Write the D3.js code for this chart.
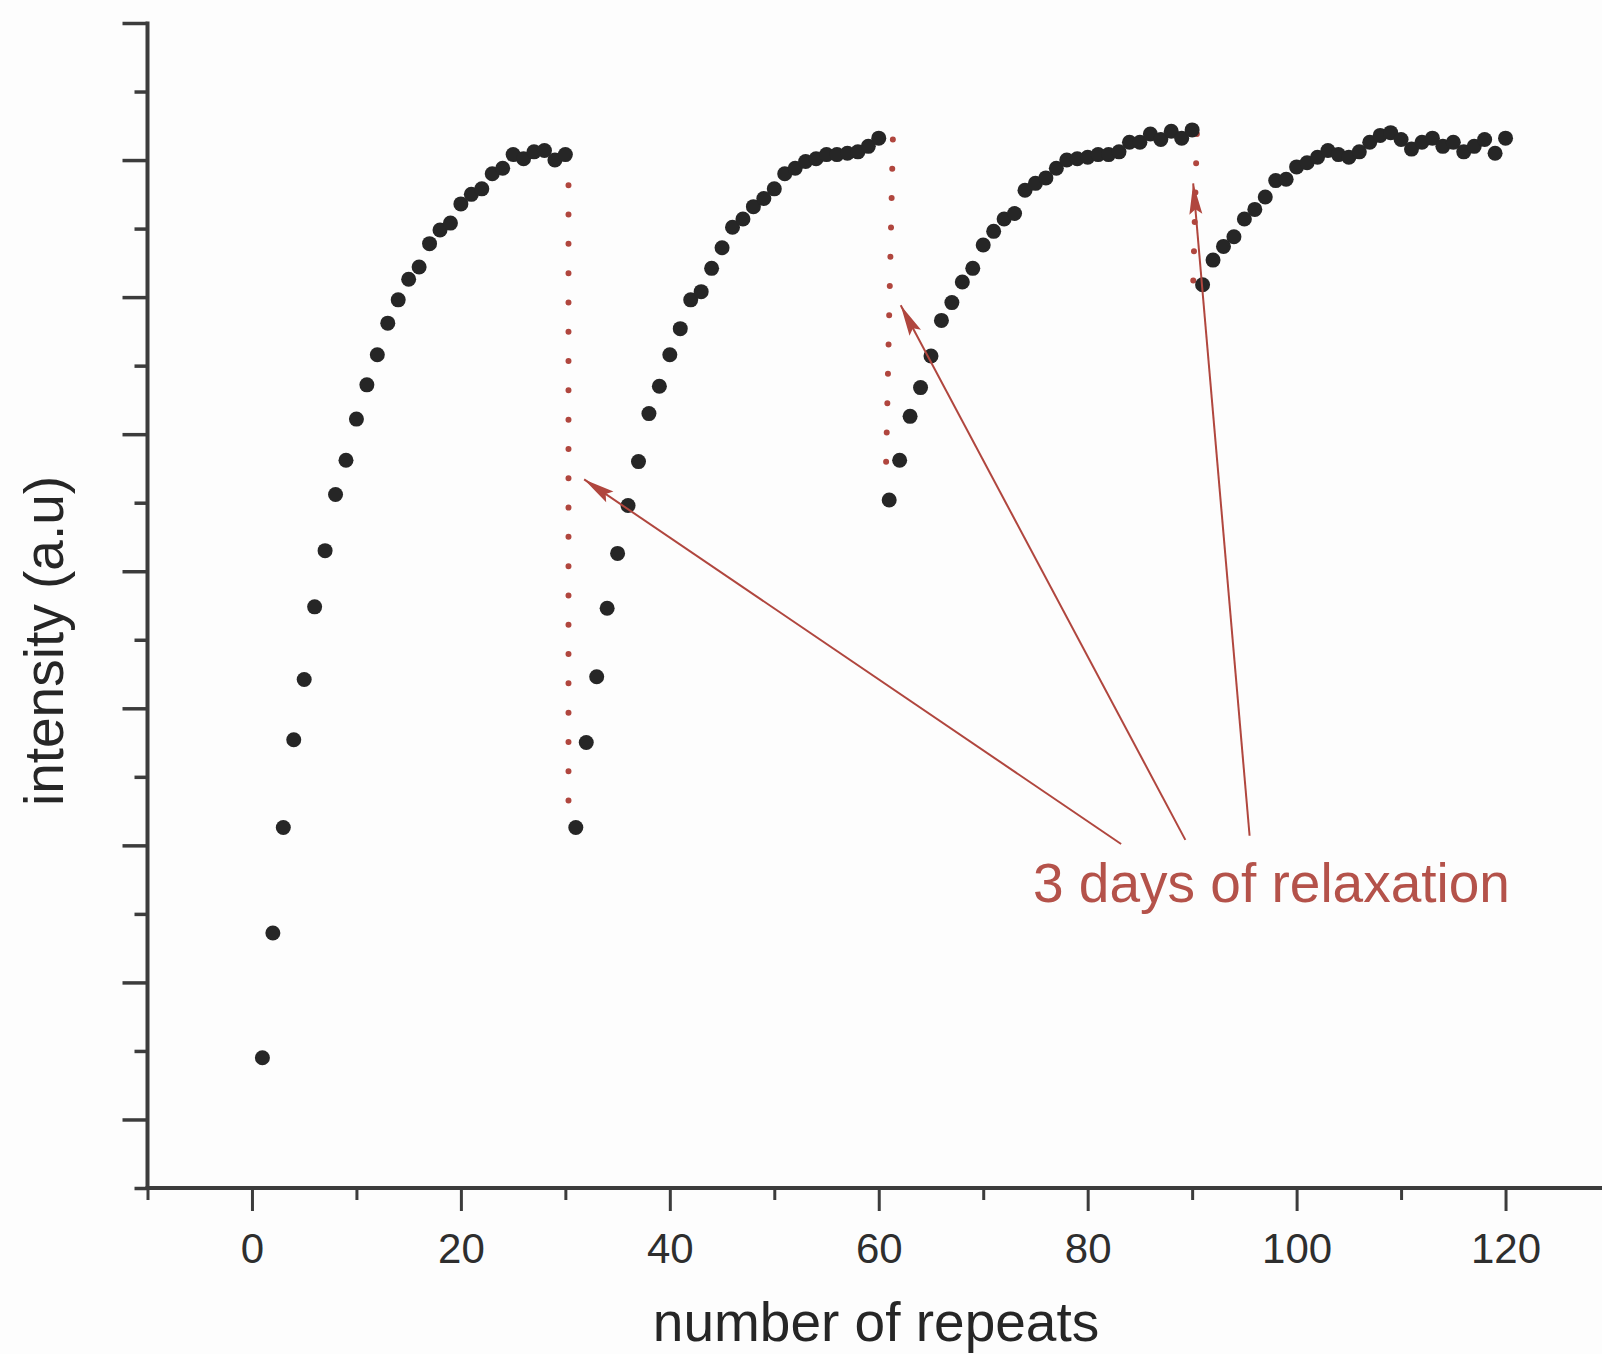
<!DOCTYPE html>
<html>
<head>
<meta charset="utf-8">
<script src="https://cdn.jsdelivr.net/npm/d3@7"></script>
<style>
  html, body { margin: 0; padding: 0; background: #fdfdfd; }
  svg { display: block; }
  text { font-family: "Liberation Sans", Arial, Helvetica, sans-serif; }
</style>
</head>
<body>
<svg id="chart" width="1602" height="1354"></svg>
<script>
// Intensity after each repeat, one array per measurement run (30 repeats each)
const runStarts = [1, 31, 61, 91];
const run1 = [0.45, 1.36, 2.13, 2.77, 3.21, 3.74, 4.15, 4.56, 4.81, 5.11,
              5.36, 5.58, 5.81, 5.98, 6.13, 6.22, 6.39, 6.49, 6.54, 6.68,
              6.75, 6.79, 6.90, 6.94, 7.04, 7.01, 7.06, 7.07, 7.00, 7.04];
const run2 = [2.13, 2.75, 3.23, 3.73, 4.13, 4.48, 4.80, 5.15, 5.35, 5.58,
              5.77, 5.98, 6.04, 6.21, 6.36, 6.51, 6.57, 6.66, 6.72, 6.79,
              6.90, 6.94, 6.99, 7.01, 7.04, 7.04, 7.05, 7.06, 7.10, 7.16];
const run3 = [4.52, 4.81, 5.13, 5.34, 5.57, 5.83, 5.96, 6.11, 6.21, 6.38,
              6.48, 6.57, 6.61, 6.78, 6.83, 6.87, 6.94, 7.00, 7.01, 7.02,
              7.04, 7.04, 7.06, 7.13, 7.13, 7.19, 7.15, 7.21, 7.16, 7.22];
const run4 = [6.09, 6.27, 6.37, 6.44, 6.57, 6.64, 6.73, 6.85, 6.86, 6.95,
              6.98, 7.02, 7.07, 7.04, 7.02, 7.06, 7.13, 7.18, 7.20, 7.15,
              7.08, 7.13, 7.16, 7.10, 7.13, 7.06, 7.10, 7.15, 7.05, 7.16];
const runs = [run1, run2, run3, run4];

// Axis ticks
const xMajorTicks = [0, 20, 40, 60, 80, 100, 120];
const xMinorTicks = [-10, 10, 30, 50, 70, 90, 110, 130];
const yMajorTicks = [0, 1, 2, 3, 4, 5, 6, 7, 8];
const yMinorTicks = [-0.5, 0.5, 1.5, 2.5, 3.5, 4.5, 5.5, 6.5, 7.5];

// Relaxation breaks: dotted drop between runs [x1, y1, x2, y2]
const relaxDrops = [
  [30.3, 7.03, 30.3, 2.32],
  [61.35, 7.15, 60.65, 4.60],
  [90.45, 7.19, 90.1, 6.10]
];
// Annotation arrows [tailX, tailY, tipX, tipY] in data units
const relaxArrows = [
  [83.2, 2.01, 31.8, 4.67],
  [89.35, 2.04, 62.1, 5.94],
  [95.5, 2.07, 90.1, 6.83]
];
const relaxLabel = "3 days of relaxation";

const svg = d3.select("#chart");
const x = d3.scaleLinear().domain([-10, 130]).range([147.5, 1610]);
const y = d3.scaleLinear().domain([-0.5, 8]).range([1188, 23]);

const axisColor = "#3c3c3c";
const accent = "#b0463e";

// background
svg.append("rect").attr("width", 1602).attr("height", 1354).attr("fill", "#fdfdfd");

// y axis: long ticks on whole units, short ticks in between, no labels
const yAxisG = svg.append("g").attr("transform", `translate(${x(-10)},0)`);
yAxisG.append("g")
  .call(d3.axisLeft(y).tickValues(yMajorTicks).tickSize(25).tickFormat(""))
  .call(g => g.select(".domain").remove());
yAxisG.append("g")
  .call(d3.axisLeft(y).tickValues(yMinorTicks).tickSize(13).tickFormat(""))
  .call(g => g.select(".domain").remove());
yAxisG.selectAll(".tick line").attr("stroke", axisColor).attr("stroke-width", 3.5);
yAxisG.append("line")
  .attr("x1", 0).attr("x2", 0).attr("y1", y(8) - 1.5).attr("y2", y(-0.5) + 1.5)
  .attr("stroke", axisColor).attr("stroke-width", 4);

// x axis
const xAxisG = svg.append("g").attr("transform", `translate(0,${y(-0.5)})`);
xAxisG.append("g")
  .call(d3.axisBottom(x).tickValues(xMajorTicks).tickSize(23).tickPadding(22))
  .call(g => g.select(".domain").remove())
  .call(g => g.selectAll("text")
    .attr("font-size", 42).attr("fill", "#2e2e2e").attr("font-family", "'Liberation Sans', Arial, sans-serif"));
xAxisG.append("g")
  .call(d3.axisBottom(x).tickValues(xMinorTicks).tickSize(12).tickFormat(""))
  .call(g => g.select(".domain").remove());
xAxisG.selectAll(".tick line").attr("stroke", axisColor).attr("stroke-width", 3);
xAxisG.append("line")
  .attr("x1", x(-10) - 2).attr("x2", 1602).attr("y1", 0).attr("y2", 0)
  .attr("stroke", axisColor).attr("stroke-width", 4);

// axis titles
svg.append("text")
  .attr("x", 876).attr("y", 1341)
  .attr("text-anchor", "middle")
  .attr("font-size", 55).attr("fill", "#262626")
  .text("number of repeats");
svg.append("text")
  .attr("transform", "translate(63,641) rotate(-90)")
  .attr("text-anchor", "middle")
  .attr("font-size", 55).attr("fill", "#262626")
  .text("intensity (a.u)");

// dotted drops marking the pauses between runs
svg.append("g").selectAll("line")
  .data(relaxDrops)
  .join("line")
  .attr("x1", d => x(d[0])).attr("y1", d => y(d[1]))
  .attr("x2", d => x(d[2])).attr("y2", d => y(d[3]))
  .attr("stroke", accent).attr("stroke-width", 6)
  .attr("stroke-linecap", "round")
  .attr("stroke-dasharray", "0 29.3");

// measured points
const points = runs.flatMap((r, i) => r.map((v, j) => ({ n: runStarts[i] + j, v })));
svg.append("g").selectAll("circle")
  .data(points)
  .join("circle")
  .attr("cx", d => x(d.n))
  .attr("cy", d => y(d.v))
  .attr("r", 7.5)
  .attr("fill", "#262626");

// annotation arrows and label
svg.append("defs").append("marker")
  .attr("id", "head")
  .attr("markerUnits", "userSpaceOnUse")
  .attr("viewBox", "-1 -8 34 16")
  .attr("markerWidth", 34).attr("markerHeight", 16)
  .attr("refX", 31).attr("refY", 0)
  .attr("orient", "auto")
  .append("path")
  .attr("d", "M0,-6.5 L31,0 L0,6.5 L5,0 Z")
  .attr("fill", accent);

svg.append("g").selectAll("line")
  .data(relaxArrows)
  .join("line")
  .attr("x1", d => x(d[0])).attr("y1", d => y(d[1]))
  .attr("x2", d => x(d[2])).attr("y2", d => y(d[3]))
  .attr("stroke", accent).attr("stroke-width", 2)
  .attr("marker-end", "url(#head)");

svg.append("text")
  .attr("x", 1033).attr("y", 902)
  .attr("font-size", 55).attr("fill", "#b4524a")
  .text(relaxLabel);
</script>
</body>
</html>
